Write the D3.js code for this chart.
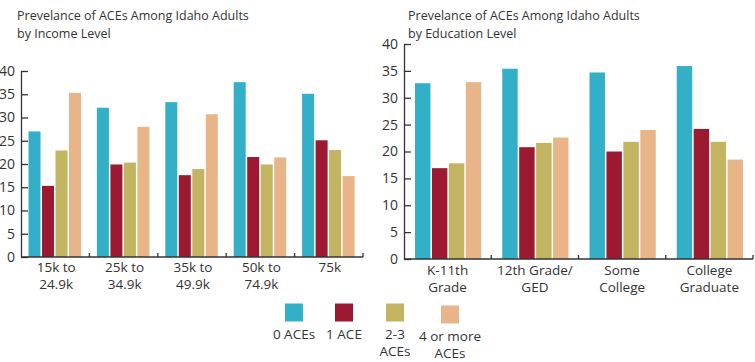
<!DOCTYPE html>
<html><head><meta charset="utf-8">
<script src="https://cdnjs.cloudflare.com/ajax/libs/d3/7.8.5/d3.min.js"></script>
<style>
body{margin:0;background:#fff;}
text{font-family:"Open Sans",sans-serif;fill:#333;}
</style></head><body>
<svg id="c" width="755" height="362"></svg>
<script>
const series = ["0 ACEs","1 ACE","2-3 ACEs","4 or more ACEs"];
const legendLines = [["0 ACEs"],["1 ACE"],["2-3","ACEs"],["4 or more","ACEs"]];
const colors = ["#33afc8","#9c1a31","#c2b461","#e8b588"];

const incomeCats = ["15k to 24.9k","25k to 34.9k","35k to 49.9k","50k to 74.9k","75k"];
const incomeLabels = [["15k to","24.9k"],["25k to","34.9k"],["35k to","49.9k"],["50k to","74.9k"],["75k"]];
const income0 = [27.0,32.1,33.3,37.6,35.1];
const income1 = [15.3,19.9,17.6,21.5,25.1];
const income2 = [22.9,20.3,18.9,19.9,23.0];
const income4 = [35.3,28.0,30.7,21.4,17.4];

const eduCats = ["K-11th Grade","12th Grade/GED","Some College","College Graduate"];
const eduLabels = [["K-11th","Grade"],["12th Grade/","GED"],["Some","College"],["College","Graduate"]];
const edu0 = [32.7,35.4,34.7,35.9];
const edu1 = [16.9,20.8,20.0,24.2];
const edu2 = [17.8,21.6,21.8,21.8];
const edu4 = [32.9,22.6,24.0,18.5];

const yTicks = [0,5,10,15,20,25,30,35,40];

const svg = d3.select("#c");

function chart(cfg){
  const g = svg.append("g");
  const x = d3.scaleBand().domain(cfg.cats).range([cfg.x0,cfg.x1]).padding(0);
  const bw = x.bandwidth();
  const xi = d3.scaleBand().domain(series).range([cfg.gl, bw-cfg.gr]).padding(0);
  const y = d3.scaleLinear().domain([0,40]).range([cfg.y0,cfg.y1]);
  const vals = cfg.vals;
  cfg.cats.forEach((c,ci)=>{
    series.forEach((s,si)=>{
      g.append("rect")
        .attr("x", x(c)+xi(s)+0.5)
        .attr("width", xi.bandwidth()-1.5)
        .attr("y", y(vals[si][ci]))
        .attr("height", y(0)-y(vals[si][ci]))
        .attr("fill", colors[si]);
    });
  });
  // y axis
  const ya = g.append("g").attr("transform",`translate(${cfg.x0},0)`)
    .call(d3.axisLeft(y).tickValues(yTicks).tickSizeInner(-7).tickSizeOuter(0).tickPadding(6));
  ya.select(".domain").attr("stroke","#333").attr("stroke-width",1.3);
  ya.selectAll(".tick line").attr("stroke","#333").attr("stroke-width",1.3);
  ya.selectAll("text").style("font-size","14px").attr("fill","#222");
  // x axis line
  g.append("line").attr("x1",cfg.x0).attr("x2",cfg.x1).attr("y1",y(0)).attr("y2",y(0))
    .attr("stroke","#333").attr("stroke-width",1.3);
  cfg.cats.forEach(c=>{
    const bx = x(c)+bw;
    g.append("line").attr("x1",bx).attr("x2",bx).attr("y1",y(0)).attr("y2",y(0)-4)
      .attr("stroke","#333").attr("stroke-width",1.3);
  });
  cfg.cats.forEach((c,ci)=>{
    const t = g.append("text").attr("text-anchor","middle").style("font-size","13.5px")
      .attr("x", x(c)+bw/2 + cfg.lblShift).attr("y", y(0)+cfg.lbl1);
    cfg.labels[ci].forEach((ln,li)=>{
      t.append("tspan").attr("x", x(c)+bw/2 + cfg.lblShift).attr("dy", li===0?0:17).text(ln);
    });
  });
  // title
  const tt = g.append("text").attr("x",cfg.tx).attr("y",20).style("font-size","12.5px");
  tt.append("tspan").attr("x",cfg.tx).attr("dy",0).text(cfg.title[0]);
  tt.append("tspan").attr("x",cfg.tx).attr("dy",18).text(cfg.title[1]);
}

chart({cats:incomeCats,labels:incomeLabels,vals:[income0,income1,income2,income4],
  x0:21,x1:363,y0:257,y1:71,gl:7,gr:7.4,lbl1:15,lblShift:1,tx:17,
  title:["Prevelance of ACEs Among Idaho Adults","by Income Level"]});
chart({cats:eduCats,labels:eduLabels,vals:[edu0,edu1,edu2,edu4],
  x0:404,x1:753,y0:259,y1:44,gl:10.5,gr:9,lbl1:15.5,lblShift:0,tx:408,
  title:["Prevelance of ACEs Among Idaho Adults","by Education Level"]});

// legend
const legX = [294,344,395,450];
const lg = svg.append("g");
series.forEach((s,i)=>{
  lg.append("rect").attr("x",legX[i]-9).attr("y", i===3?305.5:303.5).attr("width",18).attr("height",18)
    .attr("fill",colors[i]);
  const t = lg.append("text").attr("text-anchor","middle").style("font-size","13.5px")
    .attr("x",legX[i]).attr("y", i===3?341:338.5);
  legendLines[i].forEach((ln,li)=>{
    t.append("tspan").attr("x",legX[i]).attr("dy",li===0?0:17).text(ln);
  });
});
</script></body></html>
